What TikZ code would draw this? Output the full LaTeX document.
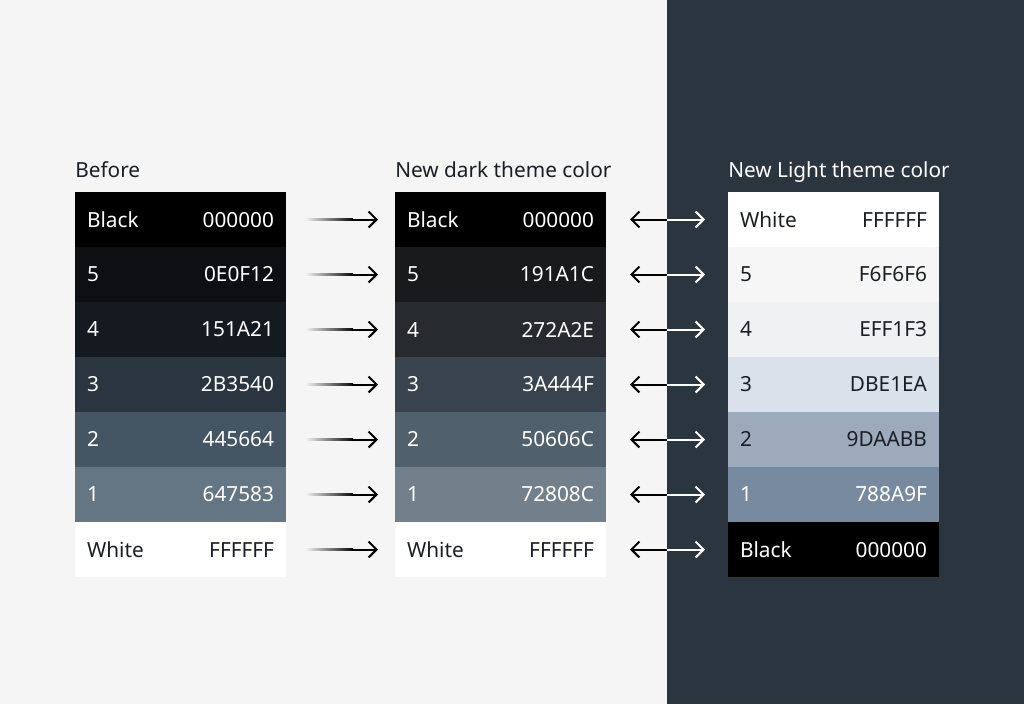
\documentclass[tikz,border=0pt]{standalone}
\usepackage{fontspec}
\setmainfont{Noto Sans}
\usepackage{xcolor}
\usetikzlibrary{arrows.meta, positioning, calc}
\definecolor{pagebg}{HTML}{F5F5F5}
\definecolor{nightbg}{HTML}{2B3540}
\definecolor{inkcolor}{HTML}{1A1F26}

\tikzset{
  swatch/.style={minimum width=158.25pt, minimum height=41.25pt, text width=140.25pt,
    inner sep=0pt, outer sep=0pt, anchor=north west, font=\fontsize{15.6}{18}\selectfont},
  heading/.style={anchor=base west, inner sep=0pt, font=\fontsize{15.6}{18}\selectfont},
  tiparrow/.style={-{Straight Barb[length=6pt,width=12pt]}, line width=1.5pt, black,
    shorten <=49.5pt, shorten >=12.75pt},
  swaparrow/.style={-{Straight Barb[length=6pt,width=12pt]}, line width=1.5pt}
}

\begin{document}
\begin{tikzpicture}[x=0.75pt, y=-0.75pt]
\fill[pagebg] (0,0) rectangle (667,704);
\fill[nightbg] (667,0) rectangle (1024,704);

\node[heading, inkcolor] (before) at (75,177) {Before};
\node[heading, inkcolor] (darkhead) at (395,177) {New dark theme color};
\node[heading, white] (lighthead) at (728,177) {New Light theme color};

\foreach \lab/\bh/\dh/\fg/\llab/\lh/\lfg [count=\i] in {
    Black/000000/000000/white/White/FFFFFF/inkcolor,
    5/0E0F12/191A1C/white/5/F6F6F6/inkcolor,
    4/151A21/272A2E/white/4/EFF1F3/inkcolor,
    3/2B3540/3A444F/white/3/DBE1EA/inkcolor,
    2/445664/50606C/white/2/9DAABB/inkcolor,
    1/647583/72808C/white/1/788A9F/white,
    White/FFFFFF/FFFFFF/inkcolor/Black/000000/white} {
  \definecolor{bcol}{HTML}{\bh}
  \definecolor{dcol}{HTML}{\dh}
  \definecolor{lcol}{HTML}{\lh}
  \node[swatch, fill=bcol, text=\fg] (b\i) at (75,{192+55*(\i-1)}) {\lab\hfill\bh};
  \node[swatch, fill=dcol, text=\fg] (d\i) at (395,{192+55*(\i-1)}) {\lab\hfill\dh};
  \node[swatch, fill=lcol, text=\lfg] (l\i) at (728,{192+55*(\i-1)}) {\llab\hfill\lh};
  % old -> new dark, shaft fades in from the left
  \shade[left color=pagebg, right color=black!85!nightbg] ($(b\i.east)+(19,-1.1)$) rectangle ($(d\i.west)+(-42,1.1)$);
  \draw[tiparrow] (b\i.east) -- (d\i.west);
  % dark <-> light
  \coordinate (m\i) at ($(d\i.east)!0.5!(l\i.west)$);
  \draw[swaparrow, black, shorten >=18pt] (m\i) -- (d\i.east);
  \draw[swaparrow, white, shorten >=17.25pt] (m\i) -- (l\i.west);
}
\end{tikzpicture}
\end{document}
